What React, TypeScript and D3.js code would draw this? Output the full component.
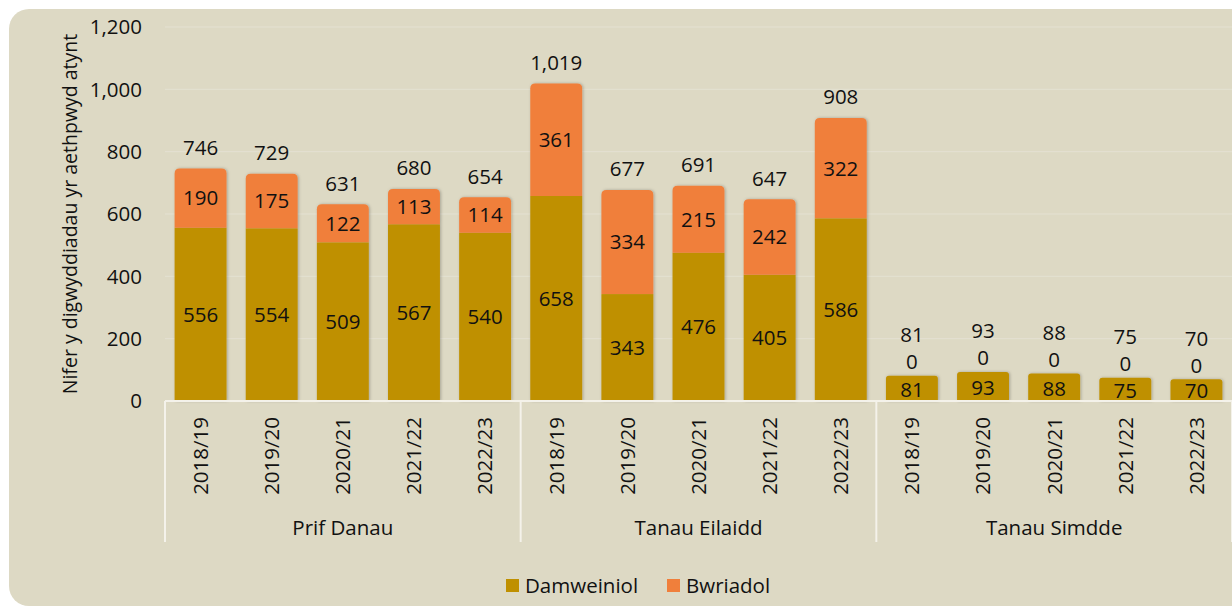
import React from "react";
import * as d3 from "d3";

const groups = ["Prif Danau", "Tanau Eilaidd", "Tanau Simdde"];
const years = ["2018/19", "2019/20", "2020/21", "2021/22", "2022/23"];
const damweiniol = [556, 554, 509, 567, 540, 658, 343, 476, 405, 586, 81, 93, 88, 75, 70];
const bwriadol = [190, 175, 122, 113, 114, 361, 334, 215, 242, 322, 0, 0, 0, 0, 0];
const yTicks = [0, 200, 400, 600, 800, 1000, 1200];

const W = 1232, H = 610;
const left = 165, right = 1232, top = 27, bottom = 401;
const GOLD = "#BF9000", ORANGE = "#F07F3B", BG = "#DDD9C4";
const FONT = "'Open Sans', 'Noto Sans', sans-serif";
const FS = 20.5;

function topRounded(x: number, y: number, w: number, h: number, r: number) {
  const rr = Math.min(r, h, w / 2);
  return `M${x},${y + h}V${y + rr}Q${x},${y} ${x + rr},${y}H${x + w - rr}Q${x + w},${y} ${x + w},${y + rr}V${y + h}Z`;
}

export default function App() {
  const keys = d3.range(damweiniol.length).map(String);
  const x = d3.scaleBand<string>().domain(keys).range([left, right]).paddingInner(0.27).paddingOuter(0.135);
  const y = d3.scaleLinear().domain([0, 1200]).range([bottom, top]);
  const step = (right - left) / keys.length;
  const fmt = d3.format(",");

  return (
    <svg width={W} height={H} style={{ position: "absolute", left: 0, top: 0 }} fontFamily={FONT}>
      <defs>
        <filter id="sh" x="-20%" y="-20%" width="140%" height="140%">
          <feDropShadow dx="1" dy="0" stdDeviation="1.5" floodColor="#000" floodOpacity="0.25" />
        </filter>
      </defs>
      <rect x={0} y={0} width={W} height={H} fill="#fff" />
      <rect x={9} y={9} width={W + 40} height={597} rx={20} fill={BG} />
      {yTicks.map((t) => (
        <g key={t}>
          {t > 0 && <line x1={left} x2={right} y1={y(t)} y2={y(t)} stroke="#E4E1D2" strokeWidth={1} />}
          <text x={142} y={y(t)} dy="0.36em" textAnchor="end" fontSize={FS} fill="#111">{fmt(t)}</text>
        </g>
      ))}
      <text transform={`translate(70,${(top + bottom) / 2}) rotate(-90)`} textAnchor="middle" dy="0.35em" fontSize={19.5} fill="#111">
        Nifer y digwyddiadau yr aethpwyd atynt
      </text>
      {keys.map((k, i) => {
        const bx = x(k)!, bw = x.bandwidth();
        const d = damweiniol[i], b = bwriadol[i], tot = d + b;
        const yd = y(d), yt = y(tot);
        const cx = bx + bw / 2;
        const zero = b === 0;
        return (
          <g key={k}>
            <g filter="url(#sh)">
              {zero ? (
                <path d={topRounded(bx, yd, bw, bottom - yd, 3)} fill={GOLD} />
              ) : (
                <>
                  <rect x={bx} y={yd} width={bw} height={bottom - yd} fill={GOLD} />
                  <path d={topRounded(bx, yt, bw, yd - yt, 5)} fill={ORANGE} />
                </>
              )}
            </g>
            <text x={cx} y={(yd + bottom) / 2 + (zero ? 1 : 0)} dy="0.36em" textAnchor="middle" fontSize={FS} fill="#111">{d}</text>
            <text x={cx} y={zero ? yd - 14 : (yt + yd) / 2} dy="0.36em" textAnchor="middle" fontSize={FS} fill="#111">{b}</text>
            <text x={cx} y={zero ? yd - 41 : yt - 21} dy="0.36em" textAnchor="middle" fontSize={FS} fill="#111">{fmt(tot)}</text>
            <text transform={`translate(${cx},417) rotate(-90)`} textAnchor="end" dy="0.36em" fontSize={FS} fill="#111">{years[i % 5]}</text>
          </g>
        );
      })}
      <line x1={left} x2={right} y1={bottom} y2={bottom} stroke="#F4F2EA" strokeWidth={2} />
      {[0, 1, 2, 3].map((g) => (
        <line key={g} x1={left + g * 5 * step} x2={left + g * 5 * step} y1={bottom} y2={542} stroke="#F4F2EA" strokeWidth={2} />
      ))}
      {groups.map((g, gi) => (
        <text key={g} x={left + (gi * 5 + 2.5) * step} y={528} dy="0.36em" textAnchor="middle" fontSize={FS} fill="#111">{g}</text>
      ))}
      <g>
        <rect x={506} y={579} width={13} height={13} fill={GOLD} />
        <text x={525} y={585.5} dy="0.36em" fontSize={FS} fill="#111">Damweiniol</text>
        <rect x={667} y={579} width={13} height={13} fill={ORANGE} />
        <text x={686} y={585.5} dy="0.36em" fontSize={FS} fill="#111">Bwriadol</text>
      </g>
    </svg>
  );
}
